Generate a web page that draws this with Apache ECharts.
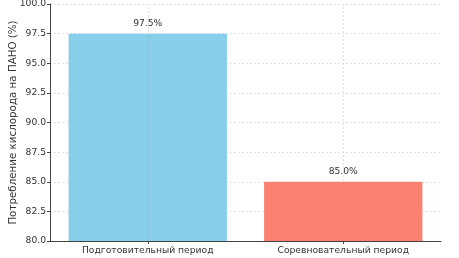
<!DOCTYPE html>
<html>
<head>
<meta charset="utf-8">
<script src="https://cdn.jsdelivr.net/npm/echarts@6/dist/echarts.min.js"></script>
<style>
  html, body { margin: 0; padding: 0; background: #fff; }
  #chart { width: 459px; height: 258px; }
</style>
</head>
<body>
<div id="chart"></div>
<script>
  const categories = ['Подготовительный период', 'Соревновательный период']
  const oxygenValues = [97.5, 85.0]
  const barColors = ['#87CEEB', '#FA8072']
  const yTicks = ['80.0', '82.5', '85.0', '87.5', '90.0', '92.5', '95.0', '97.5', '100.0']

  const chart = echarts.init(document.getElementById('chart'))
  const font = 'DejaVu Sans'
  const fs = 9.2
  const gridLine = { color: '#dcdcdc', type: [2, 2], width: 0.8 }

  const options = {
    animation: false,
    grid: { left: 50, right: 18, top: 4, bottom: 17, containLabel: false, outerBoundsMode: 'none' },
    xAxis: {
      type: 'category',
      data: categories,
      axisLine: { lineStyle: { color: '#444', width: 1 } },
      axisTick: { show: true, alignWithLabel: true, length: 3, lineStyle: { color: '#444' } },
      axisLabel: { color: '#333', fontFamily: font, fontSize: fs, margin: 5 },
      splitLine: { show: false }
    },
    yAxis: {
      type: 'value',
      min: 80,
      max: 100,
      interval: 2.5,
      name: 'Потребление кислорода на ПАНО (%)',
      nameLocation: 'middle',
      nameGap: 32,
      nameMoveOverlap: false,
      nameTextStyle: { color: '#333', fontFamily: font, fontSize: 10.3 },
      axisLine: { show: true, lineStyle: { color: '#444', width: 1 } },
      axisTick: { show: true, length: 3, lineStyle: { color: '#444' } },
      axisLabel: {
        color: '#333', fontFamily: font, fontSize: fs, margin: 4,
        formatter: (v) => yTicks[Math.round((v - 80) / 2.5)]
      },
      splitLine: { show: true, lineStyle: gridLine }
    },
    series: [
      {
        type: 'bar',
        barWidth: '81%',
        data: oxygenValues.map((v, i) => ({ value: v, itemStyle: { color: barColors[i] } })),
        label: {
          show: true,
          position: 'top',
          distance: 6,
          color: '#333',
          fontFamily: font,
          fontSize: fs,
          formatter: (p) => p.value.toFixed(1) + '%'
        },
        // vertical grid lines sit on the category centres, like the original
        markLine: {
          silent: true,
          symbol: 'none',
          label: { show: false },
          lineStyle: { color: 'rgba(150,150,150,0.35)', type: [2, 2], width: 0.8 },
          data: categories.map((c) => ({ xAxis: c }))
        }
      }
    ]
  }
  chart.setOption(options)
</script>
</body>
</html>
